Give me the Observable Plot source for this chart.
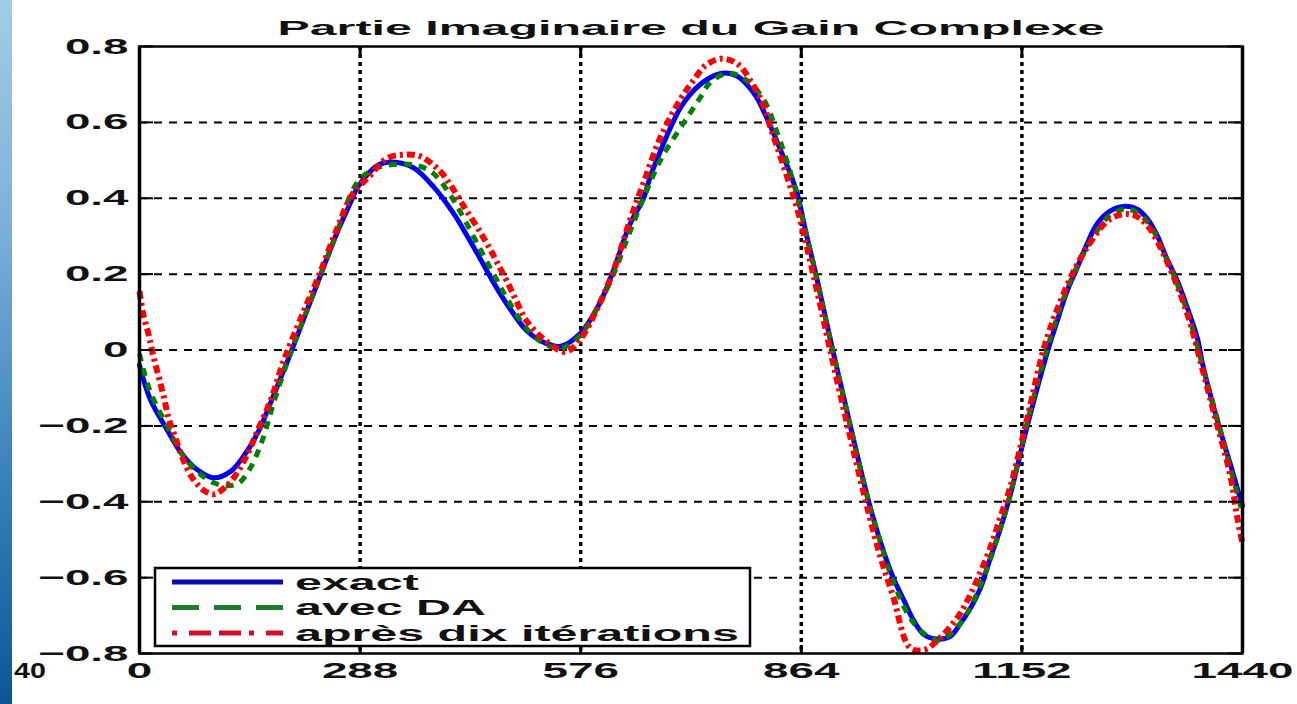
<!DOCTYPE html>
<html><head><meta charset="utf-8">
<script src="https://cdn.jsdelivr.net/npm/d3@7"></script>
<script src="https://cdn.jsdelivr.net/npm/@observablehq/plot@0.6"></script>
<style>
html,body{margin:0;padding:0;background:#fff;overflow:hidden;width:1297px;height:704px}
#strip{position:absolute;left:0;top:0;width:12px;height:704px;background:linear-gradient(#a3cbe6,#7fb2da 30%,#3f84bf 65%,#0c5595);z-index:2}
#chart{position:absolute;left:0;top:0}
</style></head><body>
<div id="strip"></div><div id="chart"></div>
<script>
const title = "Partie Imaginaire du Gain Complexe";
const seriesNames = ["exact", "avec DA", "après dix itérations"];
const xTicks = [0, 288, 576, 864, 1152, 1440];
const yTicks = [-0.8, -0.6, -0.4, -0.2, 0, 0.2, 0.4, 0.6, 0.8];
const strayLabel = "40";

const xExact = [0,14,36,54,75,97,119,136,154,171,188,197,214,235,256,278,284,301,314,334,358,384,410,428,445,463,480,506,530,550,576,600,617,640,658,667,680,693,706,719,732,749,765,780,793,806,817,828,841,850,859,870,883,905,928,952,968,984,998,1011,1024,1042,1059,1072,1085,1098,1111,1124,1137,1159,1186,1198,1211,1224,1237,1250,1267,1287,1302,1315,1328,1341,1355,1368,1381,1389,1411,1424,1433,1440];
const yExact = [-0.04,-0.13,-0.21,-0.27,-0.315,-0.337,-0.32,-0.28,-0.22,-0.14,-0.055,-0.01,0.08,0.19,0.30,0.40,0.427,0.47,0.49,0.495,0.48,0.43,0.36,0.30,0.24,0.175,0.12,0.05,0.018,0.01,0.045,0.12,0.20,0.33,0.40,0.458,0.524,0.585,0.638,0.674,0.70,0.722,0.73,0.722,0.70,0.665,0.62,0.57,0.507,0.463,0.41,0.31,0.20,0.0,-0.20,-0.40,-0.51,-0.60,-0.66,-0.714,-0.75,-0.762,-0.754,-0.72,-0.68,-0.627,-0.547,-0.47,-0.38,-0.20,0.0,0.076,0.155,0.216,0.279,0.332,0.366,0.379,0.372,0.348,0.305,0.242,0.182,0.111,0.032,-0.047,-0.213,-0.30,-0.363,-0.41];

const xDA = [0,14,36,54,75,97,115,130,145,160,175,195,214,235,256,278,290,310,340,365,384,402,420,445,465,480,506,530,550,576,600,619,640,658,680,706,719,732,745,769,793,815,833,854,870,883,905,928,952,968,984,1011,1042,1072,1098,1124,1137,1159,1186,1211,1237,1267,1290,1315,1341,1368,1389,1411,1424,1440];
const yDA = [-0.01,-0.11,-0.20,-0.27,-0.32,-0.35,-0.358,-0.35,-0.31,-0.24,-0.14,-0.02,0.08,0.19,0.30,0.42,0.455,0.48,0.49,0.485,0.465,0.42,0.36,0.265,0.19,0.135,0.055,0.015,0.005,0.04,0.12,0.20,0.31,0.40,0.50,0.585,0.625,0.665,0.705,0.73,0.71,0.66,0.57,0.44,0.31,0.20,0.0,-0.20,-0.40,-0.51,-0.61,-0.72,-0.765,-0.72,-0.62,-0.47,-0.38,-0.19,0.01,0.16,0.27,0.355,0.372,0.34,0.24,0.10,-0.05,-0.21,-0.31,-0.43];

const xIter = [0,5,12,18,25,32,38,47,56,69,84,97,110,123,141,154,171,188,214,235,256,278,301,323,345,367,393,406,423,445,458,467,480,493,506,530,556,576,600,619,640,658,680,706,723,739,760,782,802,815,824,833,846,859,883,905,928,952,968,984,1006,1025,1042,1068,1081,1094,1111,1124,1137,1159,1183,1211,1237,1267,1294,1315,1341,1368,1389,1402,1424,1433,1440];
const yIter = [0.155,0.094,0.04,-0.016,-0.07,-0.126,-0.18,-0.232,-0.284,-0.337,-0.37,-0.38,-0.365,-0.337,-0.274,-0.213,-0.134,-0.03,0.10,0.20,0.31,0.41,0.46,0.505,0.515,0.51,0.47,0.435,0.38,0.31,0.265,0.23,0.18,0.125,0.075,0.025,-0.005,0.03,0.12,0.21,0.34,0.44,0.56,0.66,0.71,0.75,0.768,0.752,0.695,0.643,0.585,0.532,0.453,0.37,0.17,-0.03,-0.23,-0.43,-0.55,-0.65,-0.785,-0.79,-0.765,-0.705,-0.66,-0.604,-0.52,-0.44,-0.36,-0.18,0.02,0.17,0.27,0.345,0.358,0.33,0.235,0.095,-0.06,-0.16,-0.33,-0.44,-0.51];

const colors = ["#0000f0", "#008000", "#ff0000"];
const toRows = (xs, ys) => xs.map((x, i) => ({x, y: ys[i]}));
const exact = toRows(xExact, yExact);
const avecDA = toRows(xDA, yDA);
const iter = toRows(xIter, yIter);

const W = 1297, H = 704, mL = 139, mR = 55, mT = 46, mB = 51;
const pw = W - mL - mR, ph = H - mT - mB;
const xTickLen = 14 / pw * 1440;   // inward tick length, horizontal
const yTickLen = 8 / ph * 1.6;     // inward tick length, vertical
const font = "'Liberation Sans', Arial, Helvetica, sans-serif";
const yFmt = d3.format("~g");
const xFmt = d3.format("d");

const plot = Plot.plot({
  width: W, height: H,
  marginLeft: mL, marginRight: mR, marginTop: mT, marginBottom: mB,
  x: {domain: [0, 1440], label: null},
  y: {domain: [-0.8, 0.8], label: null},
  style: {fontFamily: font, background: "white", color: "black", overflow: "visible"},
  marks: [
    Plot.gridY(yTicks.slice(1, -1), {stroke: "black", strokeOpacity: 1, strokeWidth: 2, strokeDasharray: "8,7"}),
    Plot.gridX(xTicks.slice(1, -1), {stroke: "black", strokeOpacity: 1, strokeWidth: 3.5, strokeDasharray: "4,4"}),
    Plot.line(exact, {x: "x", y: "y", stroke: colors[0], strokeWidth: 5, curve: "catmull-rom"}),
    Plot.line(avecDA, {x: "x", y: "y", stroke: colors[1], strokeWidth: 5, strokeDasharray: "8,7", strokeLinecap: "butt", curve: "catmull-rom"}),
    Plot.line(iter, {x: "x", y: "y", stroke: colors[2], strokeWidth: 6, strokeDasharray: "8,4,3,4", strokeLinecap: "butt", curve: "catmull-rom"}),
    Plot.ruleX(xTicks, {y1: -0.8, y2: -0.8 + yTickLen, stroke: "black", strokeWidth: 3}),
    Plot.ruleX(xTicks, {y1: 0.8 - yTickLen, y2: 0.8, stroke: "black", strokeWidth: 3}),
    Plot.ruleY(yTicks, {x1: 0, x2: xTickLen, stroke: "black", strokeWidth: 2}),
    Plot.ruleY(yTicks, {x1: 1440 - xTickLen, x2: 1440, stroke: "black", strokeWidth: 2}),
    Plot.frame({stroke: "black", strokeWidth: 2.5}),
    Plot.ruleX([0, 1440], {stroke: "black", strokeWidth: 3.5}),
    Plot.axisX(xTicks, {tickSize: 0, tickPadding: 9, fontSize: 22, fontWeight: "bold", fill: "#111", tickFormat: xFmt, label: null, className: "tl"}),
    Plot.axisY(yTicks, {tickSize: 0, tickPadding: 11, fontSize: 22, fontWeight: "bold", fill: "#111", tickFormat: yFmt, label: null, className: "tl"}),
    Plot.text([title], {frameAnchor: "top", dy: -26, fontSize: 20, fontWeight: "bold", fill: "#111", className: "ttl"})
  ]
});

document.getElementById("chart").appendChild(plot);
const svg = d3.select(plot);

// stray label at the far left, next to the strip
svg.append("text").attr("class", "stray")
  .attr("x", 14).attr("y", 670).attr("dy", "0.35em")
  .attr("text-anchor", "start").attr("font-size", 22).attr("font-weight", "bold")
  .attr("font-family", font).attr("fill", "#111").text(strayLabel);

// legend
const lg = svg.append("g").attr("class", "legend").attr("text-anchor", "start");
lg.append("rect").attr("x", 155).attr("y", 568).attr("width", 595).attr("height", 78)
  .attr("fill", "white").attr("stroke", "black").attr("stroke-width", 2.5);
const dashes = [null, "27,15", "5,12,22,8,22,8"];
const legendColors = ["#0a0ab4", "#207a30", "#d0102a"];
seriesNames.forEach((name, i) => {
  const y = 582 + i * 25.5;
  lg.append("line").attr("x1", 172).attr("x2", 283).attr("y1", y).attr("y2", y)
    .attr("stroke", legendColors[i])
    .attr("stroke-width", 5)
    .attr("stroke-dasharray", dashes[i]);
  lg.append("text").attr("class", "lt").attr("x", 295).attr("y", y).attr("dy", "0.36em")
    .attr("text-anchor", "start")
    .attr("font-size", 22).attr("font-weight", "bold").attr("fill", "#111")
    .attr("font-family", font).text(name);
});

function stretch(nodes, k) {
  nodes.each(function() {
    const l = this.getComputedTextLength();
    if (l > 0) {
      this.setAttribute("textLength", l * k);
      this.setAttribute("lengthAdjust", "spacingAndGlyphs");
    }
  });
}
stretch(svg.selectAll(".tl text"), 2.08);
stretch(svg.selectAll("text.stray"), 1.3);
stretch(svg.selectAll("text.lt"), 2.2);
svg.selectAll(".ttl text").each(function() {
  this.setAttribute("textLength", 827);
  this.setAttribute("lengthAdjust", "spacingAndGlyphs");
});
</script>
</body></html>
